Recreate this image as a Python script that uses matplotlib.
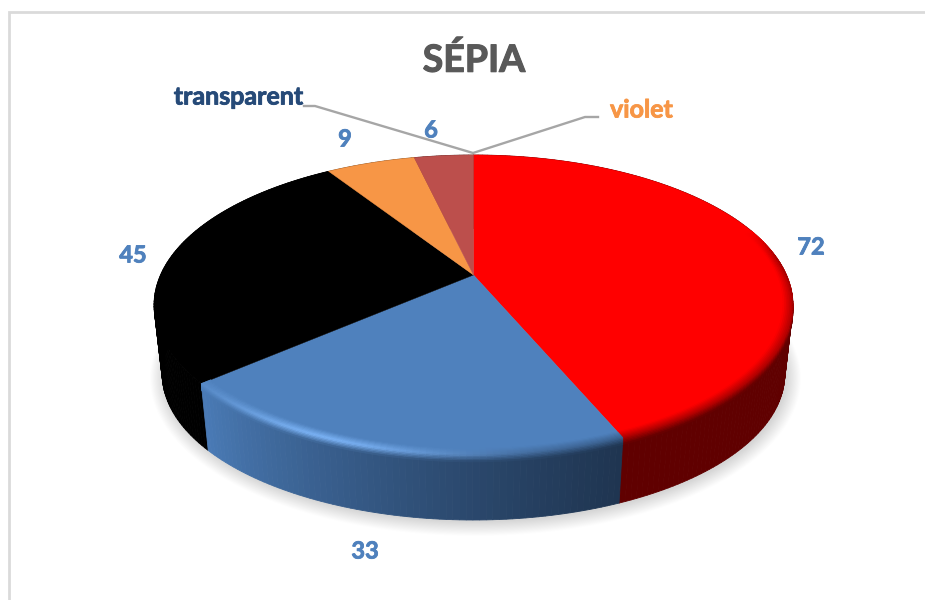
import numpy as np
import matplotlib
matplotlib.use("Agg")
import matplotlib.pyplot as plt
import matplotlib.patheffects as pe
from matplotlib.patches import Polygon

# data
title = "SÉPIA"
slice_names = ["rouge", "bleu", "noir", "orange", "brun"]
slice_values = [72, 33, 45, 9, 6]
slice_colors = ["#FF0000", "#4F81BD", "#000000", "#F79646", "#BC4F4C"]
series_labels = ["transparent", "violet"]

plt.rcParams['font.family'] = ['Lato', 'DejaVu Sans']

W, H = 925, 600
fig = plt.figure(figsize=(W / 100, H / 100), dpi=100)
ax = fig.add_axes([0, 0, 1, 1])
ax.set_xlim(0, W)
ax.set_ylim(H, 0)
ax.axis('off')

CX = 473.5
TOP = dict(cy=275.0, rx=313.0, ry=144.0)
BOT = dict(cy=345.0, rx=305.0, ry=140.0)
K = 0.2


def project(theta_deg, ring, r=1.0, dy=0.0):
    t = np.radians(theta_deg)
    u, v = r * np.sin(t), r * np.cos(t)
    s = 1.0 / (1.0 + K * v)
    return CX + ring['rx'] * u * s, ring['cy'] + dy - ring['ry'] * v * s


def rgb(c):
    return np.array(matplotlib.colors.to_rgb(c))


def mix(a, b, f):
    return a + (b - a) * f


def bold_text(x, y, s, size, color, stroke=0.6):
    ax.text(x, y, s, fontsize=size, fontweight='bold', color=color, ha='center', va='center',
            zorder=8, path_effects=[pe.withStroke(linewidth=stroke, foreground=color)])


# frame
ax.plot([9.3, 9.3, W], [H, 12, 12], color="#DADADA", lw=2.0, solid_joinstyle='miter', zorder=0)

# soft shadow
all_t = np.linspace(0, 360, 361)
N_SH = 14
for i in range(N_SH):
    f = i / (N_SH - 1)
    grow = 14 * (1 - f)
    x, y = project(all_t, BOT)
    sx = CX + (x - CX) * (1 + grow / 306) + 2
    sy = BOT['cy'] + (y - BOT['cy']) * (1 + grow / 175) + 2
    ax.fill(sx, sy, color="#000000", alpha=0.0095 + 0.004 * f, lw=0, zorder=1)

# angles derived from values
vals = np.array(slice_values, float)
edges = np.concatenate([[0], np.cumsum(vals)]) / vals.sum() * 360


def side_color(idx, th):
    name = slice_names[idx]
    if name == "bleu":
        f = (th - edges[1]) / (edges[2] - edges[1])
        return mix(rgb("#1F3551"), rgb("#4A7BB6"), f ** 1.15)
    if name == "rouge":
        return rgb("#600000")
    return rgb(slice_colors[idx]) * 0.45


def edge_color(idx, th):
    top = rgb(slice_colors[idx])
    side = side_color(idx, th)
    c = mix(top, side, 0.5)
    if slice_names[idx] == "bleu":
        hi = np.exp(-((th - 203) / 22.0) ** 2)
        base = mix(rgb("#4F81BD"), side, 0.45)
        c = mix(base, rgb("#7DB5F8"), hi)
    return c


# side walls, back to front
order = [2, 4, 3, 0, 1]
for idx in order:
    a, b = edges[idx], edges[idx + 1]
    ts = np.append(np.arange(a, b, 1.0), b)
    for t0, t1 in zip(ts[:-1], ts[1:]):
        mid = (t0 + t1) / 2
        x0t, y0t = project(t0, TOP)
        x1t, y1t = project(t1, TOP)
        x0b, y0b = project(t0, BOT)
        x1b, y1b = project(t1, BOT)
        c = side_color(idx, mid)
        ax.add_patch(Polygon([(x0t, y0t), (x1t, y1t), (x1b, y1b), (x0b, y0b)],
                             closed=True, fc=c, ec=c, lw=0.6, zorder=3))

# top faces
for idx in range(len(vals)):
    ts = np.linspace(edges[idx], edges[idx + 1], 200)
    x, y = project(ts, TOP)
    pts = np.column_stack([np.r_[CX, x], np.r_[TOP['cy'], y]])
    ax.add_patch(Polygon(pts, closed=True, fc=slice_colors[idx], ec=slice_colors[idx],
                         lw=0.3, zorder=4))

# bevel on the visible rim
RIM_IN = 0.97
N_RIM = 6
N_DOWN = 5
DOWN = 7.0
for idx in [0, 1]:
    a, b = edges[idx], edges[idx + 1]
    ts = np.append(np.arange(a, b, 1.0), b)
    for t0, t1 in zip(ts[:-1], ts[1:]):
        mid = (t0 + t1) / 2
        v = np.cos(np.radians(mid))
        strength = np.clip((0.32 - v) / 0.2, 0, 1)
        if strength <= 0:
            continue
        top = rgb(slice_colors[idx])
        ec = mix(top, edge_color(idx, mid), strength)
        sc = side_color(idx, mid)
        for j in range(N_RIM):
            r0 = RIM_IN + (1 - RIM_IN) * j / N_RIM
            r1 = RIM_IN + (1 - RIM_IN) * (j + 1) / N_RIM
            c = mix(top, ec, (j + 0.5) / N_RIM)
            q = [project(t0, TOP, r0), project(t1, TOP, r0),
                 project(t1, TOP, r1), project(t0, TOP, r1)]
            ax.add_patch(Polygon(q, closed=True, fc=c, ec=c, lw=0.4, zorder=5))
        for j in range(N_DOWN):
            d0 = DOWN * j / N_DOWN
            d1 = DOWN * (j + 1) / N_DOWN
            c = mix(ec, mix(ec, sc, strength), (j + 0.5) / N_DOWN)
            q = [project(t0, TOP, 1, d0), project(t1, TOP, 1, d0),
                 project(t1, TOP, 1, d1), project(t0, TOP, 1, d1)]
            ax.add_patch(Polygon(q, closed=True, fc=c, ec=c, lw=0.4, zorder=5))

# title
bold_text(474, 60, title, 27, "#595959", stroke=0.8)

# value labels
label_xy = [(811, 247), (365, 551), (133, 255), (345, 139), (431, 130)]
for val, (lx, ly) in zip(slice_values, label_xy):
    bold_text(lx, ly, str(val), 17, "#4F81BD")

# leader lines and their labels
ax.plot([304, 315, 473, 585, 598], [106, 106, 153, 117, 117], color="#A6A6A6", lw=1.7,
        solid_joinstyle='miter', zorder=7)
bold_text(238.5, 97, series_labels[0], 18, "#264A78")
bold_text(641.5, 110, series_labels[1], 18, "#F79646")

fig.savefig("out.png", dpi=100, facecolor="white")
